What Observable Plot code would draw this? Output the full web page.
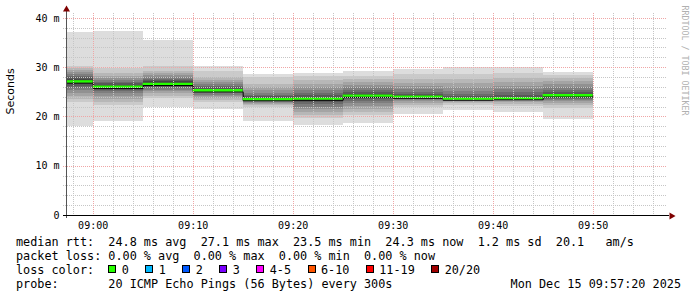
<!DOCTYPE html>
<html>
<head>
<meta charset="utf-8">
<script src="https://cdn.jsdelivr.net/npm/d3@7"></script>
<script src="https://cdn.jsdelivr.net/npm/@observablehq/plot@0.6"></script>
<style>
  html, body { margin: 0; padding: 0; background: #fff; }
  #wrap { position: relative; width: 697px; height: 297px; overflow: hidden; }
  #legend { position: relative; font-family: "DejaVu Sans Mono", monospace; font-size: 11.8px; line-height: 14px; white-space: pre; color: #000; padding-left: 16px; }
  .box { display: inline-block; width: 6px; height: 6px; border: 1px solid #000; vertical-align: 1px; margin-right: 5.4px; }
  .item { display: inline-block; }
  .trail { display: inline-block; width: 16.5px; }
  #date { position: absolute; right: 16px; top: 42px; }
</style>
</head>
<body>
<div id="wrap">
  <div id="chart"></div>
  <div id="legend"></div>
</div>
<script>
// ---------------- data ----------------
const viewStart = "08:57:20";
const viewEnd = "09:57:20";
const intervalStarts = ["08:57:20", "09:00", "09:05", "09:10", "09:15", "09:20", "09:25", "09:30", "09:35", "09:40", "09:45"];
const intervalEnds   = ["09:00", "09:05", "09:10", "09:15", "09:20", "09:25", "09:30", "09:35", "09:40", "09:45", "09:50"];
// 20 sorted ping RTTs (ms) per 5-minute step
const pings = [
  [18.1, 23.0, 23.6, 24.2, 24.8, 25.3, 25.8, 26.2, 26.5, 26.9, 27.3, 27.6, 28.0, 28.3, 28.7, 29.1, 29.5, 29.9, 30.3, 37.2],
  [19.1, 22.3, 23.0, 23.6, 24.2, 24.7, 25.1, 25.4, 25.7, 25.9, 26.1, 26.4, 26.7, 27.0, 27.4, 27.8, 28.3, 28.9, 29.8, 37.4],
  [21.9, 23.7, 24.2, 24.7, 25.1, 25.4, 25.7, 25.9, 26.2, 26.4, 26.8, 27.1, 27.4, 27.7, 28.0, 28.4, 28.8, 29.3, 30.3, 35.6],
  [21.5, 23.0, 23.4, 23.8, 24.1, 24.4, 24.7, 24.9, 25.1, 25.2, 25.4, 25.6, 25.9, 26.2, 26.6, 27.0, 27.5, 28.1, 29.2, 30.3],
  [19.1, 22.0, 22.3, 22.6, 22.8, 23.0, 23.1, 23.2, 23.3, 23.4, 23.6, 23.8, 24.1, 24.4, 24.8, 25.3, 25.9, 26.6, 28.0, 28.6],
  [18.3, 19.6, 20.3, 20.9, 21.5, 22.0, 22.5, 22.9, 23.2, 23.5, 23.7, 24.0, 24.4, 24.8, 25.3, 25.9, 26.6, 27.4, 28.2, 28.9],
  [18.7, 20.3, 21.0, 21.6, 22.2, 22.7, 23.1, 23.5, 23.8, 24.0, 24.3, 24.6, 25.0, 25.4, 25.9, 26.4, 27.0, 27.6, 28.3, 29.2],
  [20.5, 22.0, 22.4, 22.8, 23.1, 23.4, 23.6, 23.8, 23.9, 24.0, 24.1, 24.3, 24.6, 25.0, 25.5, 26.1, 26.8, 27.6, 28.6, 29.6],
  [21.3, 22.3, 22.7, 23.0, 23.2, 23.3, 23.4, 23.5, 23.6, 23.6, 23.7, 23.9, 24.2, 24.6, 25.2, 25.9, 26.7, 27.6, 28.7, 30.1],
  [21.0, 22.2, 22.6, 23.0, 23.2, 23.4, 23.5, 23.6, 23.7, 23.7, 23.8, 24.0, 24.4, 24.9, 25.5, 26.2, 27.0, 27.9, 28.9, 30.0],
  [19.4, 21.7, 22.3, 22.8, 23.1, 23.4, 23.6, 23.8, 24.0, 24.1, 24.3, 24.6, 25.0, 25.4, 25.9, 26.5, 27.2, 27.9, 28.5, 29.1]
];
const medians = [27.1, 26.0, 26.6, 25.3, 23.5, 23.6, 24.2, 24.0, 23.6, 23.7, 24.3];
const lossPct = [0, 0, 0, 0, 0, 0, 0, 0, 0, 0, 0];

const yTicks = [0, 10, 20, 30, 40];
const yTickLabels = ["0", "10 m", "20 m", "30 m", "40 m"];
const xTickLabels = ["09:00", "09:10", "09:20", "09:30", "09:40", "09:50"];

const lossLabels = ["0", "1", "2", "3", "4-5", "6-10", "11-19", "20/20"];
const lossColors = ["#26ff00", "#00b8ff", "#0059ff", "#7a00ff", "#ff00ff", "#ff5500", "#ff0000", "#a00000"];

const summaryLines = [
  "median rtt:  24.8 ms avg  27.1 ms max  23.5 ms min  24.3 ms now  1.2 ms sd  20.1   am/s",
  "packet loss: 0.00 % avg  0.00 % max  0.00 % min  0.00 % now"
];
const probeText = "probe:       20 ICMP Echo Pings (56 Bytes) every 300s";
const dateText = "Mon Dec 15 09:57:20 2025";
const watermark = "RRDTOOL / TOBI OETIKER";
const yLabel = "Seconds";

// ---------------- build ----------------
const t = s => {
  const [h, m, sec] = s.split(":").map(Number);
  return new Date(2025, 11, 15, h, m, sec || 0);
};
const t0 = t(viewStart), t1 = t(viewEnd);
const rows = intervalStarts.map((s, i) => ({
  start: t(s), end: t(intervalEnds[i]), p: pings[i], median: medians[i], loss: lossPct[i]
}));
const stepPts = rows.map(r => ({x: r.start, y: r.median}))
  .concat([{x: rows[rows.length - 1].end, y: rows[rows.length - 1].median}]);

const half = 10;
const shade = i => { const c = Math.floor(190 / half * (half - (i + 1))) + 50; return d3.rgb(c, c, c).formatHex(); };

const smokeMarks = d3.range(half).map(i => Plot.rect(rows, {
  x1: "start", x2: "end", y1: d => d.p[i], y2: d => d.p[19 - i], fill: shade(i), shapeRendering: "crispEdges"
}));

const minorX = d3.timeMinute.every(2).range(t0, t1).filter(d => d.getMinutes() % 10 !== 0);
const majorX = xTickLabels.map(s => t(s));
const minorY = d3.range(2, 41, 2).filter(v => v % 10 !== 0);
const majorY = yTicks.filter(v => v > 0);

const lossColorFor = p => lossColors[0];

const chart = Plot.plot({
  width: 697,
  height: 235,
  marginLeft: 66,
  marginRight: 31,
  marginTop: 13,
  marginBottom: 20,
  style: {fontFamily: "DejaVu Sans Mono, monospace", fontSize: "10px", color: "#000", background: "#fff"},
  x: {type: "time", domain: [t0, t1], ticks: majorX, tickFormat: d3.timeFormat("%H:%M"), tickSize: 0, tickPadding: 6, label: null},
  y: {domain: [0, 41], ticks: yTicks, tickFormat: (d, i) => yTickLabels[yTicks.indexOf(d)], tickSize: 0, tickPadding: 7, label: null},
  marks: [
    ...smokeMarks,
    Plot.line(stepPts, {x: "x", y: "y", curve: "step-after", stroke: "#000", strokeWidth: 1, dy: 1}),
    Plot.ruleY(rows, {y: "median", x1: "start", x2: "end", stroke: d => lossColorFor(d.loss), strokeWidth: 2.4, dy: -0.6}),
    Plot.ruleY(minorY, {stroke: "#c6c6c6", strokeDasharray: "1,1", insetLeft: -3, shapeRendering: "crispEdges"}),
    Plot.ruleX(minorX, {stroke: "#c6c6c6", strokeDasharray: "1,1", shapeRendering: "crispEdges"}),
    Plot.ruleY(majorY, {stroke: "#efa6a6", strokeDasharray: "1,1", insetLeft: -3, shapeRendering: "crispEdges"}),
    Plot.ruleX(majorX, {stroke: "#efa6a6", strokeDasharray: "1,1", shapeRendering: "crispEdges"}),
    Plot.ruleX([t0], {stroke: "#555", insetTop: -3, insetBottom: -3, shapeRendering: "crispEdges"}),
    Plot.ruleY([0], {stroke: "#000", insetLeft: -3, insetRight: -3, shapeRendering: "crispEdges"}),
    Plot.dot([{x: t0, y: 41}], {x: "x", y: "y", symbol: "triangle", r: 2.6, fill: "#7f0000", stroke: null, dy: -4}),
    Plot.dot([{x: t1, y: 0}], {x: "x", y: "y", symbol: "triangle", r: 2.6, fill: "#7f0000", stroke: null, rotate: 90, dx: 5, dy: 0.5}),
    Plot.text([yLabel], {frameAnchor: "left", rotate: -90, dx: -56, fontFamily: "DejaVu Sans, sans-serif", fontSize: 11, fill: "#000"}),
    Plot.text([watermark], {frameAnchor: "top-right", rotate: 90, dx: 21, dy: -8, textAnchor: "start", fontFamily: "DejaVu Sans Mono, monospace", fontSize: 8.3, fill: "#b0b0b0"})
  ]
});
document.getElementById("chart").appendChild(chart);

// ---------------- legend ----------------
const legend = document.getElementById("legend");
summaryLines.forEach(s => {
  const div = document.createElement("div");
  div.textContent = s;
  legend.appendChild(div);
});
const lossLine = document.createElement("div");
lossLine.appendChild(document.createTextNode("loss color:  "));
lossLabels.forEach((lab, i) => {
  const item = document.createElement("span");
  item.className = "item";
  const box = document.createElement("span");
  box.className = "box";
  box.style.background = lossColors[i];
  item.appendChild(box);
  item.appendChild(document.createTextNode(lab));
  const tr = document.createElement("span");
  tr.className = "trail";
  item.appendChild(tr);
  lossLine.appendChild(item);
});
legend.appendChild(lossLine);
const probe = document.createElement("div");
probe.textContent = probeText;
legend.appendChild(probe);
const date = document.createElement("div");
date.id = "date";
date.textContent = dateText;
legend.appendChild(date);
</script>
</body>
</html>
